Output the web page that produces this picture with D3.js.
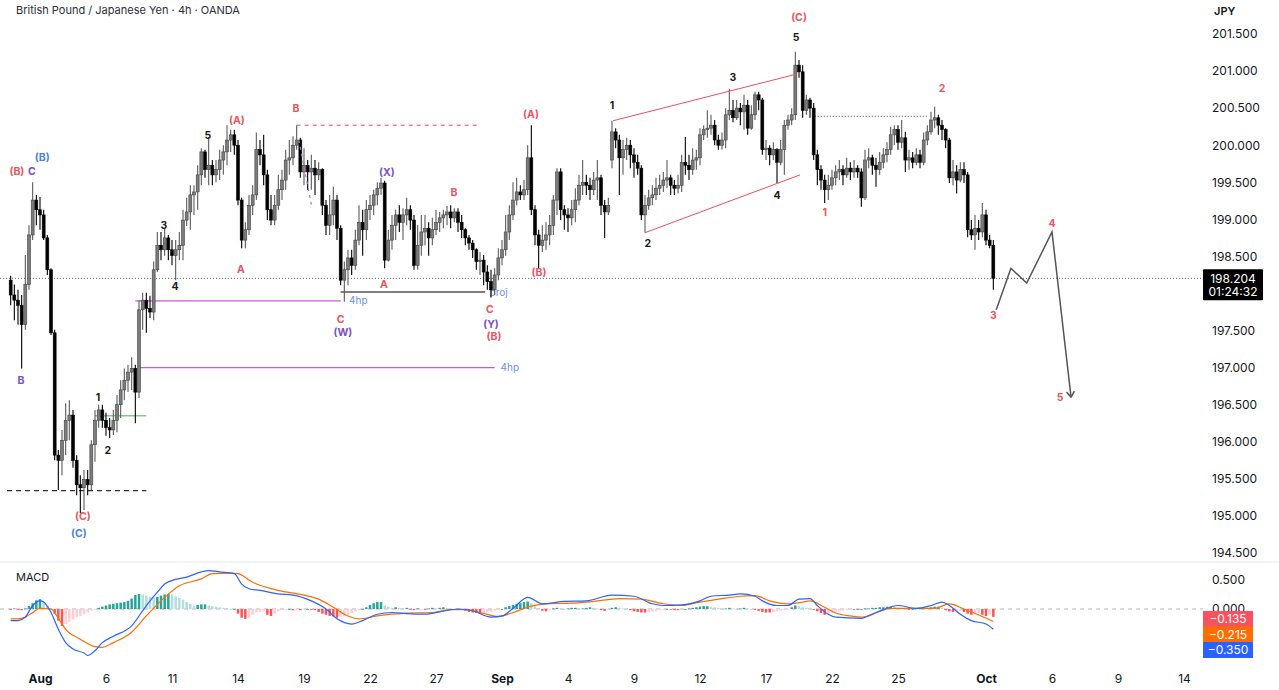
<!DOCTYPE html>
<html>
<head>
<meta charset="utf-8">
<script src="https://cdn.jsdelivr.net/npm/d3@7"></script>
<style>
  body { margin: 0; background: #fff; }
  svg { display: block; font-family: Inter, Roboto, "Noto Sans", sans-serif; }
</style>
</head>
<body>
<svg id="chart" width="1279" height="690"></svg>
<script>
// GBPJPY 4h candles (bar 0 = Jul 30, bar 268 = Oct 1)
const opens = [
  198.18,197.98,197.91,197.84,197.58,198.12,198.79,199.26,199.13,199.06,
  198.75,198.32,197.47,195.82,195.75,196.02,196.29,196.36,195.75,195.42,
  195.38,195.49,195.42,195.96,196.29,196.43,196.29,196.19,196.16,196.29,
  196.50,196.70,196.83,196.94,196.99,196.67,197.78,197.91,197.80,197.75,
  198.32,198.65,198.59,198.75,198.59,198.51,198.59,198.65,198.99,199.10,
  199.33,199.37,199.60,199.91,199.67,199.73,199.60,199.67,199.80,199.91,
  200.07,200.14,200.00,199.26,198.72,198.86,199.19,199.33,199.94,199.87,
  199.60,199.13,198.99,199.19,199.40,199.53,199.80,199.83,200.00,200.07,
  199.64,199.73,199.64,199.69,199.60,199.67,199.19,198.92,199.06,199.26,
  198.88,198.18,198.32,198.48,198.38,198.72,198.96,198.86,199.13,199.19,
  199.33,199.42,199.49,198.45,198.72,198.92,199.06,198.96,199.06,199.13,
  198.99,198.38,198.65,198.83,198.88,198.75,198.86,198.96,199.02,199.06,
  199.10,199.02,199.10,198.96,198.86,198.75,198.68,198.59,198.43,198.45,
  198.29,198.16,198.05,198.25,198.48,198.59,198.83,199.06,199.26,199.37,
  199.33,199.40,199.83,199.13,198.79,198.65,198.72,198.79,198.92,199.26,
  199.64,199.13,199.06,199.02,199.13,199.26,199.46,199.50,199.46,199.40,
  199.53,199.56,199.19,199.10,199.80,200.18,200.07,199.83,199.94,200.00,
  199.87,199.77,199.69,199.06,199.19,199.29,199.33,199.42,199.46,199.53,
  199.56,199.46,199.42,199.46,199.77,199.73,199.67,199.80,199.83,200.14,
  200.21,200.23,200.27,200.07,200.00,200.07,200.41,200.47,200.37,200.50,
  200.45,200.54,200.23,200.41,200.68,200.61,199.94,199.96,199.87,199.94,
  199.77,199.94,200.27,200.34,200.41,201.08,200.99,200.47,200.61,200.50,
  199.87,199.67,199.53,199.40,199.46,199.56,199.64,199.67,199.60,199.69,
  199.64,199.69,199.64,199.29,199.80,199.83,199.73,199.67,199.77,199.87,
  199.94,200.14,200.21,200.04,200.10,199.80,199.83,199.77,199.87,199.77,
  200.07,200.18,200.34,200.37,200.27,200.21,200.07,199.56,199.64,199.53,
  199.67,199.60,198.86,198.79,198.88,198.83,199.06,198.72,198.65
];
const highs = [
  198.24,198.12,198.05,197.98,198.52,198.92,199.50,199.33,199.30,199.13,
  198.79,198.34,197.51,195.89,196.16,196.52,196.56,196.43,195.82,195.55,
  195.62,195.62,196.02,196.43,196.50,196.50,196.39,196.32,196.43,196.63,
  196.83,196.99,197.04,197.14,197.04,197.91,198.01,198.01,197.97,198.43,
  198.83,198.83,198.88,198.79,198.72,198.72,198.83,199.13,199.29,199.46,
  199.46,199.73,199.96,199.94,200.11,199.80,199.80,199.94,200.00,200.27,
  200.21,200.21,200.07,199.29,198.96,199.33,199.46,200.17,200.07,200.14,
  199.67,199.33,199.33,199.60,199.67,199.94,200.07,200.12,200.27,200.10,
  199.96,199.80,199.87,199.80,199.77,199.69,199.26,199.33,199.44,199.33,
  198.92,198.43,198.59,198.59,198.86,199.19,199.13,199.26,199.33,199.40,
  199.50,199.56,199.52,198.86,199.06,199.13,199.19,199.15,199.29,199.19,
  199.06,198.92,199.06,199.06,198.96,199.02,199.13,199.10,199.13,199.18,
  199.19,199.15,199.15,199.06,198.88,198.79,198.72,198.61,198.56,198.52,
  198.38,198.32,198.34,198.61,198.72,199.06,199.19,199.50,199.56,199.46,
  199.53,200.00,200.27,199.19,198.86,198.92,198.96,199.06,199.33,199.69,
  199.69,199.19,199.15,199.26,199.42,199.60,199.80,199.60,199.56,199.64,
  199.80,199.60,199.26,199.29,200.33,200.23,200.14,200.07,200.10,200.07,
  199.96,199.87,199.73,199.33,199.40,199.46,199.56,199.60,199.64,199.80,
  199.60,199.53,199.60,199.87,200.11,199.87,199.96,199.94,200.23,200.27,
  200.47,200.41,200.34,200.14,200.17,200.50,200.76,200.61,200.61,200.57,
  200.68,200.61,200.54,200.72,200.72,200.64,200.07,200.00,200.04,199.96,
  200.07,200.34,200.41,200.50,201.26,201.15,201.08,200.68,200.64,200.57,
  199.94,199.73,199.60,199.60,199.67,199.73,199.80,199.73,199.83,199.77,
  199.80,199.73,199.69,199.94,199.96,199.87,199.83,199.91,199.96,200.04,
  200.25,200.27,200.27,200.34,200.18,199.94,199.91,199.96,199.94,200.17,
  200.27,200.45,200.52,200.41,200.34,200.23,200.10,199.80,199.73,199.77,
  199.77,199.64,198.99,199.06,198.99,199.22,199.13,198.79,198.72
];
const lows = [
  197.84,197.64,197.58,196.99,197.51,198.05,198.72,198.92,198.86,198.72,
  198.25,197.44,195.75,195.35,195.55,195.82,196.02,195.65,195.28,195.04,
  195.08,195.28,195.35,195.73,196.19,196.19,196.08,196.05,196.09,196.13,
  196.32,196.56,196.67,196.70,196.25,196.59,197.51,197.47,197.67,197.64,
  198.29,198.45,198.51,198.45,198.38,198.18,198.45,198.45,198.91,198.86,
  199.06,199.13,199.46,199.56,199.46,199.46,199.50,199.53,199.60,199.73,
  199.91,199.87,199.19,198.61,198.61,198.79,199.06,199.26,199.73,199.46,
  198.99,198.92,198.92,199.13,199.26,199.40,199.60,199.73,199.94,199.56,
  199.46,199.40,199.40,199.33,199.53,199.06,198.79,198.79,198.92,198.72,
  198.11,197.89,198.11,198.25,198.32,198.65,198.51,198.72,198.99,199.06,
  199.19,199.33,198.34,198.43,198.59,198.72,198.83,198.72,198.92,198.86,
  198.32,198.32,198.51,198.65,198.51,198.65,198.79,198.83,198.88,198.92,
  198.88,198.96,198.83,198.75,198.65,198.59,198.48,198.32,198.25,198.11,
  198.05,197.95,197.98,198.18,198.38,198.51,198.72,198.99,199.19,199.26,
  199.26,199.33,199.06,198.65,198.34,198.56,198.59,198.65,198.79,199.06,
  198.99,198.86,198.83,198.92,198.96,199.19,199.33,199.33,199.26,199.33,
  199.26,199.06,198.75,199.06,199.69,199.96,199.33,199.60,199.80,199.69,
  199.56,199.60,198.99,198.82,199.13,199.19,199.26,199.33,199.37,199.42,
  199.33,199.33,199.35,199.37,199.60,199.53,199.60,199.67,199.73,200.07,
  200.10,200.14,200.00,199.94,199.94,199.96,200.34,200.31,200.34,200.27,
  200.21,200.14,200.21,200.34,200.47,199.87,199.80,199.73,199.80,199.49,
  199.73,199.60,200.21,200.27,200.34,200.91,200.37,200.41,200.37,199.80,
  199.46,199.40,199.22,199.26,199.40,199.46,199.53,199.46,199.56,199.53,
  199.56,199.56,199.17,199.26,199.69,199.60,199.44,199.60,199.69,199.77,
  199.87,200.00,199.94,199.96,199.64,199.67,199.69,199.73,199.69,199.73,
  200.00,200.14,200.23,200.14,200.07,199.96,199.49,199.46,199.35,199.50,
  199.49,198.76,198.72,198.59,198.72,198.76,198.65,198.61,198.05
];
const closes = [
  197.98,197.91,197.84,197.58,198.12,198.79,199.26,199.13,199.06,198.75,
  198.32,197.47,195.82,195.75,196.02,196.29,196.36,195.75,195.42,195.38,
  195.49,195.42,195.96,196.29,196.43,196.29,196.19,196.16,196.29,196.50,
  196.70,196.83,196.94,196.99,196.67,197.78,197.91,197.80,197.75,198.32,
  198.65,198.59,198.75,198.59,198.51,198.59,198.65,198.99,199.10,199.33,
  199.37,199.60,199.91,199.67,199.73,199.60,199.67,199.80,199.91,200.07,
  200.14,200.00,199.26,198.72,198.86,199.19,199.33,199.94,199.87,199.60,
  199.13,198.99,199.19,199.40,199.53,199.80,199.83,200.00,200.07,199.64,
  199.73,199.64,199.69,199.60,199.67,199.19,198.92,199.06,199.26,198.88,
  198.18,198.32,198.48,198.38,198.72,198.96,198.86,199.13,199.19,199.33,
  199.42,199.49,198.45,198.72,198.92,199.06,198.96,199.06,199.13,198.99,
  198.38,198.65,198.83,198.88,198.75,198.86,198.96,199.02,199.06,199.10,
  199.02,199.10,198.96,198.86,198.75,198.68,198.59,198.43,198.45,198.29,
  198.16,198.05,198.25,198.48,198.59,198.83,199.06,199.26,199.37,199.33,
  199.40,199.83,199.13,198.79,198.65,198.72,198.79,198.92,199.26,199.64,
  199.13,199.06,199.02,199.13,199.26,199.46,199.50,199.46,199.40,199.53,
  199.56,199.19,199.10,199.19,200.18,200.07,199.83,199.94,200.00,199.87,
  199.77,199.69,199.06,199.19,199.29,199.33,199.42,199.46,199.53,199.56,
  199.46,199.42,199.46,199.77,199.73,199.67,199.80,199.83,200.14,200.21,
  200.23,200.27,200.07,200.00,200.07,200.41,200.47,200.37,200.50,200.45,
  200.54,200.23,200.41,200.68,200.61,199.94,199.96,199.87,199.94,199.77,
  199.94,200.27,200.34,200.41,201.08,200.99,200.47,200.61,200.50,199.87,
  199.67,199.53,199.40,199.46,199.56,199.64,199.67,199.60,199.69,199.64,
  199.69,199.64,199.29,199.80,199.83,199.73,199.67,199.77,199.87,199.94,
  200.14,200.21,200.04,200.10,199.80,199.83,199.77,199.87,199.77,200.07,
  200.18,200.34,200.37,200.27,200.21,200.07,199.56,199.64,199.53,199.67,
  199.60,198.86,198.79,198.88,198.83,199.06,198.72,198.65,198.204
];

// MACD histogram, one value per bar
const histVals = [
  -0.01,0.01,-0.01,-0.02,0.01, 0.05,0.10,0.15,0.17, 0.12,0.06,0.02,
  -0.08,-0.20,-0.29,-0.26,-0.22,-0.18,-0.14, -0.12,-0.09,-0.06,-0.03,-0.01,
  0.02,0.04,0.06,0.08,0.09,0.10,0.11,0.12,0.14,0.18,0.24,
  0.26,0.25,0.23,0.21,0.20,0.21,0.23,0.25,0.26,0.25,
  0.22,0.19,0.16,0.12,0.09,0.06,0.07,0.08,0.08,0.06,0.05,0.04,0.03,0.02,0.01,0.00,
  0.00, -0.08,-0.15,-0.17,-0.16, -0.10,-0.06,-0.05,-0.04, -0.10,-0.12,
  -0.08,-0.04,-0.02,-0.01, 0.00,-0.02,-0.01,-0.02,-0.01,0.00, -0.01,-0.02,
  -0.05,-0.08,-0.10,-0.12,-0.13,-0.15,-0.14,-0.12, -0.10,-0.07,-0.04,-0.02,0.00,
  0.03,0.07,0.10,0.12,0.12, 0.06,0.04,0.02,0.03,0.02,0.01,0.02,
  -0.01,-0.02,0.01,0.00,-0.01,0.01,0.02,0.01,0.02,0.03,0.02,0.01,0.00,-0.01,0.00,
  -0.03,-0.05,-0.06,-0.07,-0.08,-0.07,-0.06,-0.05, -0.03,-0.01,0.00,
  0.03,0.05,0.07,0.09,0.10,0.12,0.13, 0.10,0.06,0.02, -0.03,-0.04,-0.02,
  0.01,0.02,0.01,0.00,0.01,0.02,0.02,0.01,0.01,0.02,0.03,0.02,
  0.01,-0.02,-0.03,-0.02,0.02,0.03,0.02,0.01,0.00,-0.02,-0.04,-0.05,
  -0.06,-0.06,-0.05,-0.04, -0.03,-0.02,-0.01,0.00,-0.01, -0.02,-0.02,-0.01,0.00,0.01,
  0.02,0.03,0.04,0.05,0.05,0.04,0.03,
  0.02,0.01,0.01,0.02,0.01,0.00,0.01,0.02,0.01,0.00,-0.01,
  -0.03,-0.05,-0.06,-0.06, -0.05,-0.04,-0.03,-0.02,-0.01, 0.03,0.06,0.05,0.03,
  0.02,0.01,-0.01, -0.04,-0.07,-0.10,-0.08, -0.06,-0.05,-0.04,-0.03,-0.02,-0.01,
  0.00,-0.01,0.00,0.01, 0.01,0.02,0.02,0.03,0.03,0.04,0.04,0.03,0.02,
  0.01,0.00,-0.01,0.00,0.01,0.00,0.01,0.02,0.03, 0.04,0.04,0.02,
  -0.02,-0.04,-0.05,-0.04,-0.03, -0.05,-0.08,-0.10,-0.08,-0.07,-0.10,-0.12,-0.10,-0.135
];

// MACD and signal lines, read at these bars
const macdIdx = [0,2,4,6,8,9,11,13,15,17,20,21,23,25,28,33,37,40,42,45,48,52,54,57,61,63,65,68,73,77,
  82,86,89,93,96,100,104,108,113,117,122,126,131,134,137,141,145,151,157,164,170,175,178,183,188,191,196,199,203,205,
  209,212,215,218,220,223,225,232,234,238,242,247,251,254,256,259,262,266,268];
const macdVals = [-0.20,-0.20,-0.14,0.06,0.14,0.12,-0.06,-0.35,-0.58,-0.69,-0.76,-0.80,-0.72,-0.58,-0.47,-0.29,0.06,0.29,0.43,0.51,
  0.55,0.64,0.66,0.64,0.61,0.43,0.35,0.32,0.26,0.24,0.14,0.00,-0.17,-0.26,-0.20,-0.09,-0.06,-0.08,-0.09,-0.05,
  0.00,-0.03,-0.14,-0.12,0.01,0.20,0.09,0.13,0.14,0.24,0.22,0.09,0.06,0.07,0.14,0.22,0.24,0.26,0.22,0.14,
  0.06,0.06,0.17,0.18,0.06,-0.09,-0.14,-0.16,-0.12,-0.01,0.06,0.01,0.06,0.12,0.06,-0.09,-0.20,-0.26,-0.35];
const signalIdx = [0,2,4,6,8,11,13,15,19,23,25,28,33,37,42,46,52,55,60,62,66,73,80,84,88,92,95,100,104,108,
  115,120,124,128,133,137,142,146,153,159,166,172,178,183,188,194,199,203,207,212,216,218,222,225,229,232,236,240,247,252,
  256,260,265,268];
const signalVals = [-0.17,-0.17,-0.14,-0.06,0.01,0.00,-0.16,-0.35,-0.52,-0.65,-0.66,-0.58,-0.40,-0.12,0.20,0.40,0.52,0.61,0.62,0.61,
  0.46,0.32,0.24,0.17,0.03,-0.12,-0.17,-0.12,-0.09,-0.07,-0.06,-0.01,-0.01,-0.06,-0.13,-0.06,0.05,0.09,0.10,0.13,
  0.18,0.17,0.09,0.06,0.12,0.18,0.22,0.23,0.14,0.09,0.12,0.14,0.03,-0.07,-0.12,-0.14,-0.06,0.01,0.01,0.01,
  0.09,0.00,-0.13,-0.215];

const priceTicks = [194.5,195,195.5,196,196.5,197,197.5,198.5,199,199.5,200,200.5,201,201.5];
const macdTicks = [0.5, 0];
// x labels: trading day counted from Aug 1
const tickDays = [0,3,6,9,12,15,18,21,24,27,30,33,36,39,43,46,49,52];
const tickLabels = ["Aug","6","11","14","19","22","27","Sep","4","9","12","17","22","25","Oct","6","9","14"];

const lastPrice = 198.204, countdown = "01:24:32";
const lastMacd = -0.350, lastSignal = -0.215, lastHist = -0.135;

// wave labels: text, bar, price, kind
const waveLabels = [
  ["(B)",1.7,199.65,"r"],["C",5.8,199.65,"p"],["(B)",8.6,199.84,"b"],["B",2.8,196.83,"p"],
  ["(C)",19.7,194.99,"r"],["(C)",18.6,194.76,"b"],["1",23.8,196.60,"k"],["2",26.5,195.89,"k"],
  ["3",41.8,198.92,"k"],["4",44.8,198.10,"k"],["5",53.8,200.14,"k"],["(A)",61.7,200.34,"r"],
  ["A",62.8,198.32,"r"],["B",77.8,200.50,"r"],["(X)",102.6,199.63,"p"],["B",120.9,199.36,"r"],
  ["A",101.8,198.13,"r"],["C",90,197.65,"r"],["(W)",90.6,197.48,"p"],["C",130.7,197.78,"r"],
  ["(Y)",131,197.58,"p"],["(B)",131.8,197.42,"r"],["(A)",141.9,200.41,"r"],["(B)",144.1,198.29,"r"],
  ["1",164,200.54,"k"],["2",173.8,198.67,"k"],["3",197,200.92,"k"],["4",209,199.32,"k"],
  ["5",214.2,201.46,"k"],["(C)",215,201.72,"r"],["1",222,199.09,"r"],["2",254,200.77,"r"],
  ["3",268,197.70,"r"],["4",284,198.94,"r"],["5",286.2,196.60,"r"]
];
// horizontal drawings: price, from bar, to bar, kind
const levels = [
  [200.27,78,128,"redDash"],[197.90,34,90,"magenta"],[197.00,35,132,"magenta"],
  [198.02,90,129.4,"gray"],[196.35,23,37,"green"],[195.34,-1,37,"blackDash"],[200.39,219.3,250.2,"dotted"]
];
const levelTexts = [["4hp",92.3,197.90],["4hp",133.6,197.00],["proj",130.6,198.02]];
// sloped drawings: [bar, price] pairs
const channelUpper = [[164.3,200.33],[214.4,200.96]];
const channelLower = [[173,198.82],[215.3,199.60]];
const diagDash = [[78.6,200.07],[82,199.20]];
const projection = [[268.8,197.78],[272.8,198.34],[277.1,198.14],[284,198.83],[289.2,196.60]];

const svg = d3.select("#chart");
const plotRight = 1203;
const colors = { r: "#ec5560", p: "#7a4fc4", b: "#4a7fe3", k: "#1a1a1a" };

const x = d3.scaleLinear().domain([8, 8 + 6 * 52]).range([40, 1184]);
const y = d3.scaleLinear().domain([194.5, 201.5]).range([553, 34]);
const ym = d3.scaleLinear().domain([0, 0.5]).range([609, 580]);
const step = x(1) - x(0);

svg.append("rect").attr("width", 1279).attr("height", 690).attr("fill", "#fff");

const defs = svg.append("defs");
defs.append("clipPath").attr("id", "clipMain").append("rect")
  .attr("x", 0).attr("y", 0).attr("width", plotRight).attr("height", 561);
defs.append("clipPath").attr("id", "clipMacd").append("rect")
  .attr("x", 0).attr("y", 563).attr("width", plotRight).attr("height", 100);

// title + panel split
svg.append("text").attr("x", 16).attr("y", 14).attr("font-size", 11).attr("fill", "#2a2e39")
  .text("British Pound / Japanese Yen · 4h · OANDA");
svg.append("line").attr("x1", 0).attr("x2", 1279).attr("y1", 562).attr("y2", 562)
  .attr("stroke", "#e6e8ee");

const main = svg.append("g").attr("clip-path", "url(#clipMain)");

// last price line
main.append("line").attr("x1", 0).attr("x2", plotRight)
  .attr("y1", y(lastPrice)).attr("y2", y(lastPrice))
  .attr("stroke", "#6b6b6b").attr("stroke-dasharray", "1,2");

// level drawings
const levelStyle = {
  redDash: { stroke: "#ef4f5c", dash: "4,4", w: 1 },
  magenta: { stroke: "#c95bd6", dash: null, w: 1.2 },
  gray: { stroke: "#555", dash: null, w: 1.3 },
  green: { stroke: "#4caf50", dash: null, w: 1 },
  blackDash: { stroke: "#333", dash: "5,4", w: 1.2 },
  dotted: { stroke: "#444", dash: "1,2", w: 1 }
};
main.selectAll(".lvl").data(levels).join("line")
  .attr("x1", d => x(d[1])).attr("x2", d => x(d[2]))
  .attr("y1", d => y(d[0])).attr("y2", d => y(d[0]))
  .attr("stroke", d => levelStyle[d[3]].stroke)
  .attr("stroke-width", d => levelStyle[d[3]].w)
  .attr("stroke-dasharray", d => levelStyle[d[3]].dash);

main.selectAll(".lvlText").data(levelTexts).join("text")
  .attr("x", d => x(d[1])).attr("y", d => y(d[2]))
  .attr("dy", "0.35em").attr("font-size", 10).attr("fill", "#6a8fe6")
  .text(d => d[0]);

// candles: grey bodies for up bars, black for down bars
const bars = closes.map((c, i) => ({ i, o: opens[i], h: highs[i], l: lows[i], c }));
const candle = main.selectAll(".candle").data(bars).join("g");
candle.append("line")
  .attr("x1", d => x(d.i)).attr("x2", d => x(d.i))
  .attr("y1", d => y(d.h)).attr("y2", d => y(d.l))
  .attr("stroke", d => d.c >= d.o ? "#5a5a5a" : "#000").attr("stroke-width", 1.1);
candle.append("rect")
  .attr("x", d => x(d.i) - step * 0.4)
  .attr("width", step * 0.8)
  .attr("y", d => y(Math.max(d.o, d.c)))
  .attr("height", d => Math.max(1, Math.abs(y(d.o) - y(d.c))))
  .attr("fill", d => d.c >= d.o ? "#7c7c7c" : "#000")
  .attr("stroke", d => d.c >= d.o ? "#404040" : "#000")
  .attr("stroke-width", 0.6);

// sloped drawings
const pline = d3.line().x(d => x(d[0])).y(d => y(d[1]));
main.append("path").attr("d", pline(channelUpper)).attr("fill", "none").attr("stroke", "#ef4f5c").attr("stroke-width", 1);
main.append("path").attr("d", pline(channelLower)).attr("fill", "none").attr("stroke", "#ef4f5c").attr("stroke-width", 1);
main.append("path").attr("d", pline(diagDash)).attr("fill", "none").attr("stroke", "#b070d0")
  .attr("stroke-width", 1.2).attr("stroke-dasharray", "3,4");
main.append("path").attr("d", pline(projection)).attr("fill", "none").attr("stroke", "#555").attr("stroke-width", 1.5);

// arrow head at the end of the projection
const pEnd = projection[projection.length - 1], pPrev = projection[projection.length - 2];
const ang = Math.atan2(y(pEnd[1]) - y(pPrev[1]), x(pEnd[0]) - x(pPrev[0]));
const ex = x(pEnd[0]), ey = y(pEnd[1]);
[-0.6, 0.6].forEach(a => {
  main.append("line").attr("x1", ex).attr("y1", ey)
    .attr("x2", ex - 7 * Math.cos(ang + a)).attr("y2", ey - 7 * Math.sin(ang + a))
    .attr("stroke", "#555").attr("stroke-width", 1.5);
});

// wave labels
main.selectAll(".wave").data(waveLabels).join("text")
  .attr("x", d => x(d[1])).attr("y", d => y(d[2]))
  .attr("text-anchor", "middle").attr("dy", "0.35em")
  .attr("font-size", 10.5).attr("font-weight", 700)
  .attr("fill", d => colors[d[3]])
  .text(d => d[0]);

// price axis
const yAxis = svg.append("g").attr("transform", `translate(${plotRight + 5},0)`)
  .call(d3.axisRight(y).tickValues(priceTicks).tickSize(0).tickPadding(4).tickFormat(d3.format(".3f")));
yAxis.select(".domain").remove();
yAxis.selectAll("text").attr("font-size", 12).attr("fill", "#131722").attr("font-family", "Inter, Roboto, sans-serif");
svg.append("text").attr("x", 1214).attr("y", 15).attr("font-size", 11).attr("font-weight", 600)
  .attr("fill", "#131722").text("JPY");

// last price tag
const ly = y(lastPrice);
svg.append("rect").attr("x", 1203).attr("y", ly - 9).attr("width", 60).attr("height", 31).attr("fill", "#000").attr("rx", 1);
svg.append("text").attr("x", 1233).attr("y", ly + 5).attr("text-anchor", "middle")
  .attr("font-size", 12).attr("fill", "#fff").text(lastPrice.toFixed(3));
svg.append("text").attr("x", 1233).attr("y", ly + 18).attr("text-anchor", "middle")
  .attr("font-size", 12).attr("fill", "#fff").text(countdown);

// MACD panel
const macdG = svg.append("g").attr("clip-path", "url(#clipMacd)");
svg.append("text").attr("x", 16).attr("y", 581).attr("font-size", 11).attr("fill", "#131722").text("MACD");
macdG.append("line").attr("x1", 0).attr("x2", plotRight).attr("y1", ym(0)).attr("y2", ym(0))
  .attr("stroke", "#b2b5be").attr("stroke-dasharray", "4,4");

const histColor = (v, i) => {
  const prev = i > 0 ? histVals[i - 1] : 0;
  if (v >= 0) return v >= prev ? "#26a69a" : "#b2dfdb";
  return v <= prev ? "#ff5252" : "#ffcdd2";
};
macdG.selectAll(".hist").data(histVals).join("rect")
  .attr("x", (d, i) => x(i) - step * 0.34)
  .attr("width", step * 0.68)
  .attr("y", d => Math.min(ym(d), ym(0)))
  .attr("height", d => Math.max(0.8, Math.abs(ym(d) - ym(0))))
  .attr("fill", (d, i) => histColor(d, i));

const mline = d3.line().x(d => x(d[0])).y(d => ym(d[1])).curve(d3.curveMonotoneX);
macdG.append("path").attr("d", mline(signalIdx.map((b, k) => [b, signalVals[k]])))
  .attr("fill", "none").attr("stroke", "#ff6d00").attr("stroke-width", 1.2);
macdG.append("path").attr("d", mline(macdIdx.map((b, k) => [b, macdVals[k]])))
  .attr("fill", "none").attr("stroke", "#2962ff").attr("stroke-width", 1.2);

const mAxis = svg.append("g").attr("transform", `translate(${plotRight + 5},0)`)
  .call(d3.axisRight(ym).tickValues(macdTicks).tickSize(0).tickPadding(4).tickFormat(d3.format(".3f")));
mAxis.select(".domain").remove();
mAxis.selectAll("text").attr("font-size", 12).attr("fill", "#131722").attr("font-family", "Inter, Roboto, sans-serif");

// value tags, stacked under the zero label
const tags = [[lastHist, "#f7525f"], [lastSignal, "#ff6d00"], [lastMacd, "#2962ff"]];
tags.forEach((t, k) => {
  const top = 611 + k * 15.5;
  svg.append("rect").attr("x", 1203).attr("y", top).attr("width", 50).attr("height", 16).attr("fill", t[1]);
  svg.append("text").attr("x", 1228).attr("y", top + 12).attr("text-anchor", "middle")
    .attr("font-size", 12).attr("fill", "#fff").text(t[0].toFixed(3).replace("-", "\u2212"));
});

// time axis
const xAxis = svg.append("g").attr("transform", "translate(0,668)")
  .call(d3.axisBottom(x).tickValues(tickDays.map(d => 8 + d * 6)).tickSize(0).tickPadding(6)
    .tickFormat((d, k) => tickLabels[k]));
xAxis.select(".domain").remove();
xAxis.selectAll("text").attr("font-size", 12).attr("fill", "#131722")
  .attr("font-family", "Inter, Roboto, sans-serif")
  .attr("font-weight", (d, k) => /^[A-Z]/.test(tickLabels[k]) ? 700 : 400);
</script>
</body>
</html>
